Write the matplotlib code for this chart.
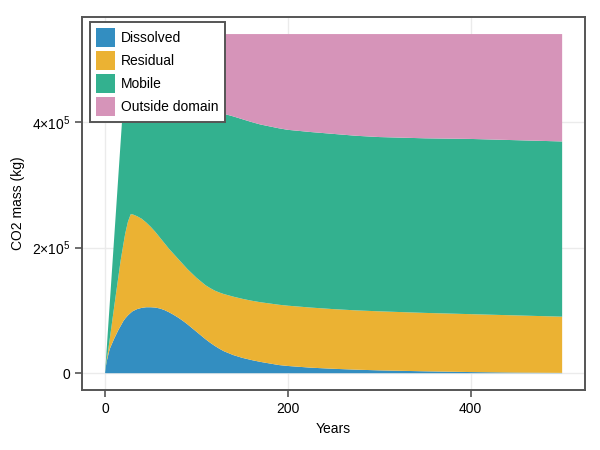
import numpy as np
import matplotlib
matplotlib.use("Agg")
from matplotlib import pyplot as plt
from matplotlib.ticker import FixedLocator, FixedFormatter

plt.rcParams['font.family'] = ['Liberation Sans', 'DejaVu Sans']
plt.rcParams['mathtext.fontset'] = 'custom'
plt.rcParams['mathtext.rm'] = 'Liberation Sans'
plt.rcParams['mathtext.it'] = 'Liberation Sans'

# years
years = [0, 1, 2, 3, 5, 7, 10, 12, 15, 17, 20, 22, 25, 28, 30, 35, 40, 45, 50, 55,
         60, 65, 70, 75, 80, 85, 90, 95, 100, 105, 110, 115, 120, 125, 130, 140, 150,
         160, 170, 180, 190, 200, 225, 250, 275, 300, 350, 400, 450, 500]

# CO2 masses in thousands of kg
dissolved = [0, 12, 20, 26, 38, 45, 55, 61, 70, 75, 83, 87, 92, 96, 98.5, 102, 104,
             105, 105, 104.5, 103, 100.5, 97, 93, 88.5, 83.5, 78, 72, 66, 60, 54, 48.5,
             43.5, 39, 35, 29, 24.5, 21, 18, 15.5, 13, 11.5, 8.8, 7, 5.6, 4.5, 3, 1.8,
             1, 0.5]
residual = [0, 1, 4, 6, 15, 29, 51, 66, 88, 104, 122, 135, 149, 157, 154.5, 148, 142,
            135, 128, 120.5, 113, 106.5, 101, 97, 93.5, 90.5, 88, 87, 86, 86, 86, 87,
            88, 89.5, 91, 93, 94, 94.5, 95, 95.5, 96, 96, 95.7, 95, 94.4, 94, 93,
            92.2, 91, 89.5]
mobile = [0, 8.6, 19, 33, 55, 77, 110, 132, 166, 188, 227, 253, 299, 284, 281, 275,
          269, 265, 262, 260, 260, 260, 261, 262, 264, 266, 269, 271, 274, 277, 280,
          282.5, 284.5, 286, 287, 287, 286, 284.5, 283, 282, 281, 280, 279.5, 279,
          278, 277.5, 278, 279, 279, 279]
outside = [0, 0, 0, 0, 0, 0, 0, 0, 0, 0, 0, 0, 0, 3, 6, 15, 25, 35, 45, 55, 64, 73, 81,
           88, 94, 100, 105, 110, 114, 117, 120, 122, 124, 125.5, 127, 131, 135.5, 140,
           144, 147, 150, 152.5, 156, 159, 162, 164, 166, 167, 169, 171]

labels = ['Dissolved', 'Residual', 'Mobile', 'Outside domain']
colors = ['#338ec1', '#ebb233', '#33b18f', '#d694b9']

ytick_vals = [0, 2e5, 4e5]
ytick_labels = ['0', r'$2{\times}10^5$', r'$4{\times}10^5$']

fig = plt.figure(figsize=(6, 4.5), dpi=100)
ax = fig.add_axes([0.137, 0.133, 0.838, 0.829])

t = np.array(years)
stack = [np.array(s) * 1000 for s in (dissolved, residual, mobile, outside)]
ax.stackplot(t, *stack, labels=labels, colors=colors, linewidth=0)

ax.set_xlim(-25, 525)
ax.set_ylim(-27000, 567000)
ax.set_xticks([0, 200, 400])
ax.yaxis.set_major_locator(FixedLocator(ytick_vals))
ax.yaxis.set_major_formatter(FixedFormatter(ytick_labels))

ax.grid(True, color='#ebebeb', linewidth=1)
ax.set_axisbelow(True)
for s in ax.spines.values():
    s.set_color('#555555')
    s.set_linewidth(1.4)
ax.tick_params(labelsize=10, length=5, width=1.2, color='#555555', direction='out')

ax.set_xlabel('Years', fontsize=10)
ax.set_ylabel('CO2 mass (kg)', fontsize=10)
ax.yaxis.set_label_coords(-0.113, 0.5)

leg = ax.legend(loc='upper left', bbox_to_anchor=(0.0159, 0.9866), borderaxespad=0,
                fontsize=10, fancybox=False, framealpha=1, edgecolor='#555555',
                handlelength=1.37, handleheight=1.73, handletextpad=0.41,
                labelspacing=0.27, borderpad=0.45)
leg.get_frame().set_linewidth(1.4)

fig.savefig('out.png', dpi=100)
